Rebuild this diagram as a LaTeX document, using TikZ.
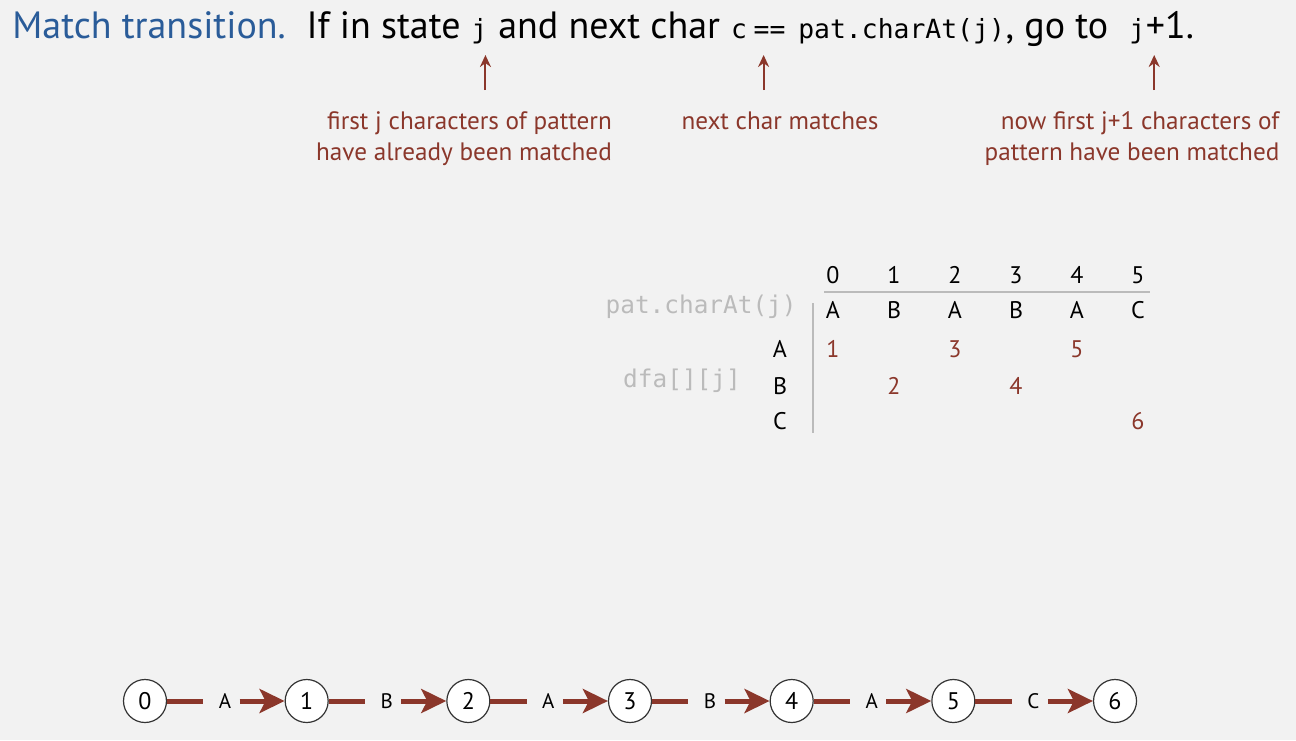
\documentclass[tikz,border=0pt]{standalone}
\usepackage{fontspec}
\setmainfont{PT Sans}
\setmonofont{DejaVu Sans Mono}
\usetikzlibrary{arrows.meta,calc}
\definecolor{bg}{HTML}{F2F2F2}
\definecolor{ttl}{HTML}{2A5C99}
\definecolor{brick}{HTML}{8B372B}
\definecolor{lgray}{HTML}{BBBBBB}
\newcommand\tsp{\kern\fontdimen2\font}
\begin{document}
\begin{tikzpicture}[x=0.5pt,y=-0.5pt,
  tt/.style={inner sep=0pt, anchor=base west, font=\fontsize{19}{22}\selectfont},
  ttm/.style={inner sep=0pt, anchor=base west, font=\fontsize{13.2}{16}\ttfamily},
  ann/.style={inner sep=0pt, anchor=north, text=brick, font=\fontsize{12.6}{15.5}\selectfont, align=right},
  uparr/.style={brick, line width=1pt, -{Stealth[length=6pt,width=5.5pt]}},
  tab/.style={inner sep=0pt, font=\fontsize{12}{14}\selectfont},
  val/.style={tab, text=brick},
  gl/.style={inner sep=0pt, text=lgray, font=\fontsize{12.2}{14}\ttfamily},
  rule/.style={lgray, line width=1pt},
  st/.style={circle, draw=black!80, fill=white, line width=0.6pt, minimum size=21.5pt, inner sep=0pt, font=\fontsize{12}{14}\selectfont},
  elab/.style={inner sep=0pt, font=\fontsize{10.5}{12}\selectfont},
  edgeline/.style={brick, line width=2.5pt},
  edgearrow/.style={brick, line width=2.5pt, -{Stealth[length=12.5pt,width=12pt,inset=3pt]}}
]
\fill[bg] (0,0) rectangle (1296,740);

% title
\node[tt, text=ttl] (t0) at (12,38) {Match transition.};
\node[tt] (t1) at ($(t0.base east)+(20,0)$) {If in state\tsp};
\node[ttm] (tj) at (t1.base east) {j};
\node[tt] (t2) at (tj.base east) {\tsp and next char\tsp};
\node[ttm] (tc) at (t2.base east) {c};
\node[ttm] (teq) at ($(tc.base east)+(6,0)$) {==};
\node[ttm] (tp) at ($(teq.base east)+(12,0)$) {pat.charAt(j)};
\node[tt] (t4) at (tp.base east) {, go to\tsp\tsp};
\node[ttm] (tj1) at (t4.base east) {j};
\node[tt] (t5) at (tj1.base east) {+1.};

% annotations
\node[ann] (a1) at (464,111) {first j characters of pattern\\have already been matched};
\node[ann] (a2) at (780,111) {next char matches};
\node[ann] (a3) at (1132,111) {now first j+1 characters of\\pattern have been matched};
\draw[uparr, shorten <=10.5pt, shorten >=8.5pt] ([xshift=3pt]tj.base |- a1.north) -- ([xshift=3pt]tj.base);
\draw[uparr, shorten <=10.5pt, shorten >=8.5pt] ([xshift=-3pt]teq.base |- a2.north) -- ([xshift=-3pt]teq.base);
\draw[uparr, shorten <=10.5pt, shorten >=8.5pt] ([xshift=8.5pt]tj1.base |- a3.north) -- ([xshift=8.5pt]tj1.base);

% table
\foreach \i/\x/\c in {0/833/A,1/894/B,2/955/A,3/1016/B,4/1077/A,5/1138/C} {
  \node[tab] (h\i) at (\x,275) {\i};
  \node[tab] (p\i) at (\x,310) {\c};
}
\node[tab] (rA) at (780,349) {A};
\node[tab] (rB) at (780,386) {B};
\node[tab] (rC) at (780,421) {C};
\node[val] (v1) at (p0 |- rA) {1};
\node[val] (v2) at (p1 |- rB) {2};
\node[val] (v3) at (p2 |- rA) {3};
\node[val] (v4) at (p3 |- rB) {4};
\node[val] (v5) at (p4 |- rA) {5};
\node[val] (v6) at (p5 |- rC) {6};
\node[gl, anchor=east] (pl) at (797,307) {pat.charAt(j)};
\node[gl] (dl) at (682,381) {dfa[][j]};
\draw[rule] (824,292) -- (1150,292);
\draw[rule] (813,303) -- (813,433);

% DFA chain
\foreach \i in {0,...,6} \node[st] (s\i) at (145+161.67*\i,701) {\i};
\foreach \i/\c in {0/A,1/B,2/A,3/B,4/A,5/C} {
  \pgfmathtruncatemacro\j{\i+1}
  \node[elab] (e\i) at ($(s\i)+(80,0)$) {\c};
  \draw[edgeline, shorten >=7.5pt] (s\i) -- (e\i);
  \draw[edgearrow, shorten <=4pt] (e\i) -- (s\j);
}
\end{tikzpicture}
\end{document}
